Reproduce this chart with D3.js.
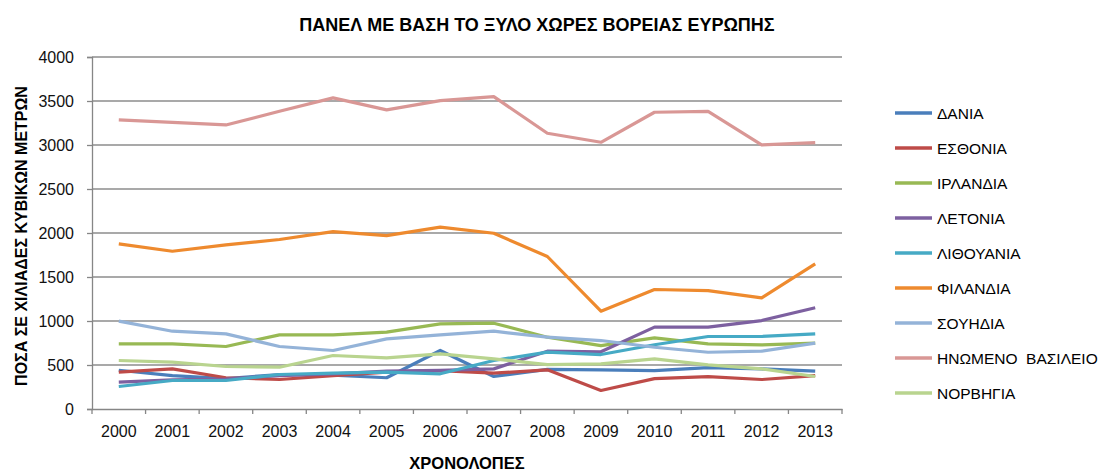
<!DOCTYPE html>
<html>
<head>
<meta charset="utf-8">
<script src="https://cdn.jsdelivr.net/npm/d3@7"></script>
<style>
  body { margin: 0; background: #fff; }
  svg { font-family: "Liberation Sans", Arial, sans-serif; }
  .axis text { font-size: 16px; fill: #111; }
  .axis path, .axis line { stroke: #868686; }
</style>
</head>
<body>
<div id="chart"></div>
<script>
// years on the x axis
var years = ["2000","2001","2002","2003","2004","2005","2006","2007","2008","2009","2010","2011","2012","2013"];
var yTicks = [0, 500, 1000, 1500, 2000, 2500, 3000, 3500, 4000];

// series, in thousands of cubic metres
var dania      = [440, 380, 345, 392, 385, 355, 665, 370, 450, 445, 435, 470, 455, 430];
var esthonia   = [420, 456, 355, 335, 380, 418, 437, 407, 445, 210, 345, 369, 335, 380];
var irlandia   = [740, 740, 710, 843, 843, 873, 968, 975, 816, 721, 809, 740, 729, 748];
var letonia    = [305, 330, 340, 380, 400, 430, 440, 456, 657, 650, 930, 930, 1005, 1150];
var lithouania = [256, 324, 324, 392, 407, 418, 400, 551, 646, 619, 730, 824, 824, 854];
var filandia   = [1877, 1793, 1865, 1926, 2016, 1971, 2066, 1997, 1733, 1111, 1358, 1346, 1263, 1650];
var souidia    = [998, 884, 854, 710, 665, 797, 843, 884, 816, 778, 702, 645, 657, 748];
var inomeno    = [3285, 3258, 3228, 3383, 3535, 3399, 3505, 3550, 3133, 3031, 3372, 3383, 3001, 3027];
var norvigia   = [551, 532, 483, 475, 608, 581, 627, 570, 505, 513, 570, 502, 456, 369];

var seriesNames = ["ΔΑΝΙΑ", "ΕΣΘΟΝΙΑ", "ΙΡΛΑΝΔΙΑ", "ΛΕΤΟΝΙΑ", "ΛΙΘΟΥΑΝΙΑ", "ΦΙΛΑΝΔΙΑ", "ΣΟΥΗΔΙΑ", "ΗΝΩΜΕΝΟ  ΒΑΣΙΛΕΙΟ", "ΝΟΡΒΗΓΙΑ"];
var seriesValues = [dania, esthonia, irlandia, letonia, lithouania, filandia, souidia, inomeno, norvigia];
var colors = ["#4A7EBB", "#BE4B48", "#98B954", "#7D60A0", "#46AAC5", "#EE8A2E", "#94B3D8", "#D99795", "#B9D48F"];

var W = 1105, H = 471;
var margin = {top: 57, right: 263, bottom: 62, left: 92};
var width = W - margin.left - margin.right;
var height = H - margin.top - margin.bottom;

var svg = d3.select("#chart").append("svg")
    .attr("width", W)
    .attr("height", H);

var g = svg.append("g")
    .attr("transform", "translate(" + margin.left + "," + margin.top + ")");

var x = d3.scaleBand().domain(years).range([0, width]);
var y = d3.scaleLinear().domain([0, 4000]).range([height, 0]);

// gridlines
g.selectAll(".grid").data(yTicks.slice(1)).enter().append("line")
    .attr("class", "grid")
    .attr("x1", 0).attr("x2", width)
    .attr("y1", d => y(d)).attr("y2", d => y(d))
    .attr("stroke", "#8c8c8c")
    .attr("stroke-width", 1.3);

// y axis
var yAxis = g.append("g").attr("class", "axis")
    .call(d3.axisLeft(y).tickValues(yTicks).tickSize(5).tickPadding(13).tickFormat(d3.format("d")));
yAxis.selectAll("path, line").attr("stroke-width", 1.3);

// x axis (ticks at category boundaries)
var xAxis = g.append("g").attr("class", "axis")
    .attr("transform", "translate(0," + height + ")")
    .call(d3.axisBottom(x).tickSize(0).tickPadding(17));
xAxis.select("path").attr("stroke-width", 1.3);
xAxis.selectAll(".bound").data(d3.range(years.length + 1)).enter().append("line")
    .attr("class", "bound")
    .attr("x1", i => i * x.step()).attr("x2", i => i * x.step())
    .attr("y1", 0).attr("y2", 5)
    .attr("stroke", "#868686").attr("stroke-width", 1.3);

// lines
var line = d3.line()
    .x((d, i) => x(years[i]) + x.bandwidth() / 2)
    .y(d => y(d));

g.selectAll(".series").data(seriesValues).enter().append("path")
    .attr("class", "series")
    .attr("d", d => line(d))
    .attr("fill", "none")
    .attr("stroke", (d, i) => colors[i])
    .attr("stroke-width", 3.2)
    .attr("stroke-linejoin", "round");

// titles
svg.append("text")
    .attr("x", 537).attr("y", 31)
    .attr("text-anchor", "middle")
    .style("font-size", "18px").style("font-weight", "bold")
    .text("ΠΑΝΕΛ ΜΕ ΒΑΣΗ ΤΟ ΞΥΛΟ ΧΩΡΕΣ ΒΟΡΕΙΑΣ ΕΥΡΩΠΗΣ");

svg.append("text")
    .attr("x", 467).attr("y", 469)
    .attr("text-anchor", "middle")
    .style("font-size", "16.5px").style("font-weight", "bold")
    .text("ΧΡΟΝΟΛΟΠΕΣ");

svg.append("text")
    .attr("transform", "translate(27,236) rotate(-90)")
    .attr("text-anchor", "middle")
    .style("font-size", "16px").style("font-weight", "bold")
    .text("ΠΟΣΑ ΣΕ ΧΙΛΙΑΔΕΣ ΚΥΒΙΚΩΝ ΜΕΤΡΩΝ");

// legend
var legend = svg.append("g").attr("transform", "translate(895,113)");
seriesNames.forEach(function (name, i) {
    var row = legend.append("g").attr("transform", "translate(0," + (i * 35) + ")");
    row.append("line")
        .attr("x1", 0).attr("x2", 37)
        .attr("stroke", colors[i]).attr("stroke-width", 3.5);
    row.append("text")
        .attr("x", 42).attr("y", 6)
        .style("font-size", "15.5px")
        .style("white-space", "pre")
        .text(name);
});
</script>
</body>
</html>
